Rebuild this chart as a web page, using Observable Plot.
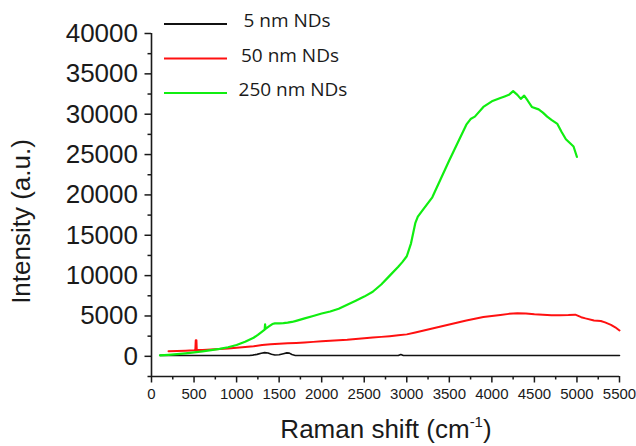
<!DOCTYPE html>
<html>
<head>
<meta charset="utf-8">
<script src="https://cdn.jsdelivr.net/npm/d3@7"></script>
<script src="https://cdn.jsdelivr.net/npm/@observablehq/plot@0.6"></script>
<style>
  html, body { margin: 0; padding: 0; background: #fff; }
  #chart { width: 636px; height: 446px; overflow: hidden; }
</style>
</head>
<body>
<div id="chart"></div>
<script>
// Raman spectra of nanodiamond (ND) samples of three sizes: [shift (cm-1), intensity (a.u.)]
const seriesNames = ["5 nm NDs", "50 nm NDs", "250 nm NDs"];
const seriesColors = ["#111111", "#ff1010", "#10ee10"];
const seriesWidths = [1.6, 2, 2.2];

const spectrum5nm = [
  [100,120],[300,110],[600,100],[900,100],[1150,110],[1190,150],[1240,240],[1290,380],
  [1330,460],[1370,420],[1410,260],[1450,170],[1500,190],[1550,330],[1590,430],[1620,400],
  [1650,220],[1690,110],[2000,100],[2500,100],[2900,100],[2930,230],[2960,100],[3500,100],
  [4000,100],[4500,100],[5000,100],[5500,100]
];

const spectrum50nm = [
  [200,620],[300,650],[400,700],[500,740],[515,760],[520,1980],[528,1980],[532,780],
  [600,770],[700,850],[800,910],[900,980],[1000,1060],[1100,1150],[1200,1250],[1300,1400],
  [1400,1500],[1500,1560],[1600,1610],[1700,1660],[1800,1720],[1900,1790],[2000,1860],
  [2100,1930],[2200,1990],[2300,2060],[2400,2160],[2500,2240],[2600,2330],[2700,2410],
  [2800,2500],[2900,2600],[3000,2720],[3100,2950],[3200,3200],[3300,3450],[3400,3700],
  [3500,3950],[3600,4200],[3700,4450],[3800,4660],[3900,4860],[4000,5000],[4100,5120],
  [4200,5260],[4300,5330],[4400,5320],[4500,5220],[4600,5160],[4700,5100],[4800,5090],
  [4900,5110],[4980,5160],[5050,4850],[5100,4700],[5200,4450],[5280,4380],[5330,4200],
  [5400,3900],[5450,3600],[5500,3200]
];

const spectrum250nm = [
  [100,120],[200,190],[300,270],[400,370],[500,490],[600,620],[700,760],[800,920],
  [900,1120],[1000,1400],[1100,1800],[1200,2300],[1250,2650],[1300,3050],[1330,3300],
  [1335,3950],[1340,3400],[1380,3700],[1420,4000],[1450,4080],[1500,4080],[1550,4110],
  [1600,4170],[1650,4260],[1700,4400],[1800,4700],[1900,5000],[2000,5300],[2100,5550],
  [2200,5900],[2300,6400],[2400,6900],[2500,7400],[2600,8000],[2700,8900],[2800,10000],
  [2900,11100],[2950,11700],[3000,12400],[3050,14000],[3100,16500],[3130,17300],
  [3200,18300],[3300,19700],[3400,22000],[3500,24300],[3600,26500],[3700,28700],
  [3750,29400],[3800,29700],[3900,30900],[4000,31600],[4100,32000],[4150,32200],
  [4200,32400],[4250,32850],[4300,32400],[4340,31900],[4380,32300],[4420,31700],
  [4470,30900],[4550,30600],[4600,30200],[4650,29700],[4700,29300],[4770,28800],
  [4820,27800],[4870,26900],[4920,26400],[4960,26000],[5000,24700]
];

const spectra = [spectrum5nm, spectrum50nm, spectrum250nm];

// Axis ticks
const xTicks = [0,500,1000,1500,2000,2500,3000,3500,4000,4500,5000,5500];
const xMinorTicks = [250,750,1250,1750,2250,2750,3250,3750,4250,4750,5250];
const yTicks = [0,5000,10000,15000,20000,25000,30000,35000,40000];
const yMinorTicks = [-2500,2500,7500,12500,17500,22500,27500,32500,37500];

const xTitle = "Raman shift (cm";
const xTitleSup = "-1";
const yTitle = "Intensity (a.u.)";

const lineMarks = spectra.map((s, i) =>
  Plot.line(s, {
    x: d => d[0], y: d => d[1],
    stroke: seriesColors[i], strokeWidth: seriesWidths[i],
    strokeLinejoin: "round"
  })
);

const plot = Plot.plot({
  width: 636,
  height: 446,
  marginLeft: 151,
  marginRight: 17,
  marginTop: 33,
  marginBottom: 70,
  style: { fontFamily: "'Liberation Sans', Arial, sans-serif", background: "#fff", color: "#1a1a1a" },
  x: { domain: [0, 5500] },
  y: { domain: [-2500, 40000] },
  marks: [
    Plot.axisX({ ticks: xMinorTicks, tickSize: 3.5, tickFormat: () => "", label: null, strokeWidth: 1.5 }),
    Plot.axisX({
      ticks: xTicks, tickSize: 6.5, tickPadding: 5, label: null, strokeWidth: 1.5,
      tickFormat: d => String(d),
      fontFamily: "'Liberation Sans Narrow', 'Liberation Sans', Arial, sans-serif",
      fontSize: 15
    }),
    Plot.axisY({ ticks: yMinorTicks, tickSize: 3.5, tickFormat: () => "", label: null, strokeWidth: 1.5 }),
    Plot.axisY({
      ticks: yTicks, tickSize: 6.5, tickPadding: 7, label: null, strokeWidth: 1.5,
      tickFormat: d => String(d), fontSize: 26
    }),
    Plot.ruleX([0], { stroke: "#1a1a1a", strokeWidth: 1.6 }),
    Plot.ruleY([-2500], { stroke: "#1a1a1a", strokeWidth: 1.6 }),
    ...lineMarks
  ]
});

document.getElementById("chart").appendChild(plot);

// Axis titles and legend, placed from the plot's scales
const svg = d3.select(plot);
const [x0, x1] = plot.scale("x").range;
const [yb, yt] = plot.scale("y").range;

const xt = svg.append("text")
  .attr("x", (x0 + x1) / 2 + 1)
  .attr("y", 438)
  .attr("text-anchor", "middle")
  .attr("font-size", 26)
  .attr("fill", "#1a1a1a");
xt.append("tspan").text(xTitle);
xt.append("tspan").attr("font-size", 15).attr("dy", -11).text(xTitleSup);
xt.append("tspan").attr("dy", 11).text(")");

svg.append("text")
  .attr("transform", `translate(30,${(yb + yt) / 2 + 17}) rotate(-90)`)
  .attr("text-anchor", "middle")
  .attr("font-size", 26)
  .attr("fill", "#1a1a1a")
  .text(yTitle);

const legend = svg.append("g")
  .attr("font-family", "'Open Sans', 'Noto Sans', sans-serif")
  .attr("font-size", 19)
  .attr("fill", "#1a1a1a");
seriesNames.forEach((name, i) => {
  const y = 24 + i * 34.5;
  legend.append("line")
    .attr("x1", 164).attr("x2", 227).attr("y1", y).attr("y2", y)
    .attr("stroke", seriesColors[i]).attr("stroke-width", 2);
  legend.append("text")
    .attr("x", 287 + 3 * i).attr("y", y - 2)
    .attr("text-anchor", "middle")
    .attr("dominant-baseline", "middle")
    .text(name);
});
</script>
</body>
</html>
